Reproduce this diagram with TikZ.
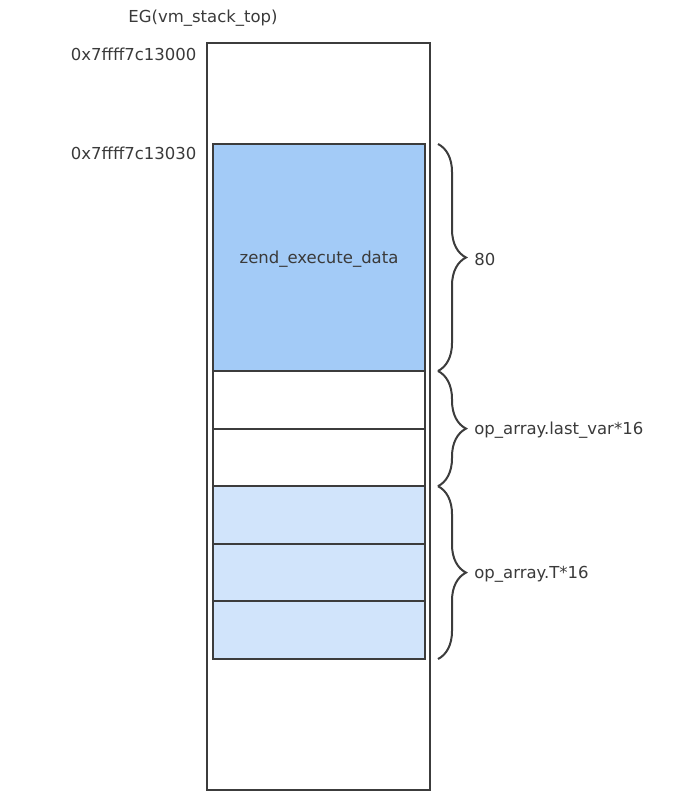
\documentclass[tikz,border=0pt]{standalone}
\usepackage{fontspec}
\setmainfont{DejaVu Sans}
\usetikzlibrary{positioning,decorations.pathreplacing}
\definecolor{exdblue}{HTML}{A3CBF7}
\definecolor{slotblue}{HTML}{D1E4FB}
\definecolor{edgegray}{HTML}{3C3C3C}
\definecolor{textgray}{HTML}{3A3A3A}
\tikzstyle{stackbox} =
[
	draw=edgegray,rectangle,line width=2pt,inner sep=0pt,outer sep=0pt,
	minimum width=223pt, minimum height=747pt
]
\tikzstyle{cell} =
[
	draw=edgegray,rectangle,line width=2pt,inner sep=0pt,outer sep=0pt,
	minimum width=212pt, minimum height=57.6pt
]
\tikzstyle{tmpcell} =
[
	draw=edgegray,rectangle,line width=2pt,inner sep=0pt,outer sep=0pt,
	minimum width=212pt, minimum height=57.6pt,
	fill=slotblue
]
\tikzstyle{exdbox} =
[
	draw=edgegray,rectangle,line width=2pt,inner sep=0pt,outer sep=0pt,
	minimum width=212pt, minimum height=227pt,
	fill=exdblue
]
\tikzstyle{brace} =
[
	draw=edgegray,line width=2pt,decorate,
	decoration={brace,amplitude=28pt}
]
\tikzstyle{bracelabel} = [midway,anchor=west,xshift=32pt,yshift=-1.5pt,text=textgray]
\tikzstyle{addr} = [anchor=east,text=textgray]
\begin{document}
\begin{tikzpicture}[x=1pt,y=-1pt,font=\fontsize{16.5}{20}\selectfont]
\useasboundingbox (0,0) rectangle (686,800);

\node[stackbox] (stack) at (318.5,416.5) {};
\node[exdbox] (exd) at (319,257.5) {};
\node[text=textgray] (exdlabel) at ([yshift=-1.5pt]exd.center) {zend\_execute\_data};

\node[cell] (var1) [below=0pt of exd] {};
\node[cell] (var2) [below=0pt of var1] {};
\node[tmpcell] (tmp1) [below=0pt of var2] {};
\node[tmpcell] (tmp2) [below=0pt of tmp1] {};
\node[tmpcell] (tmp3) [below=0pt of tmp2] {};

\node[text=textgray] (top) at (203,18) {EG(vm\_stack\_top)};
\node[addr] (addr0) at (200,54) {0x7ffff7c13000};
\node[addr] (addr1) at (200,153) {0x7ffff7c13030};
%
\draw[brace] ([xshift=13pt]exd.north east) -- ([xshift=13pt]exd.south east)
	node[bracelabel]{80};
\draw[brace] ([xshift=13pt]var1.north east) -- ([xshift=13pt]var2.south east)
	node[bracelabel]{op\_array.last\_var*16};
\draw[brace] ([xshift=13pt]tmp1.north east) -- ([xshift=13pt]tmp3.south east)
	node[bracelabel]{op\_array.T*16};

\end{tikzpicture}
\end{document}
